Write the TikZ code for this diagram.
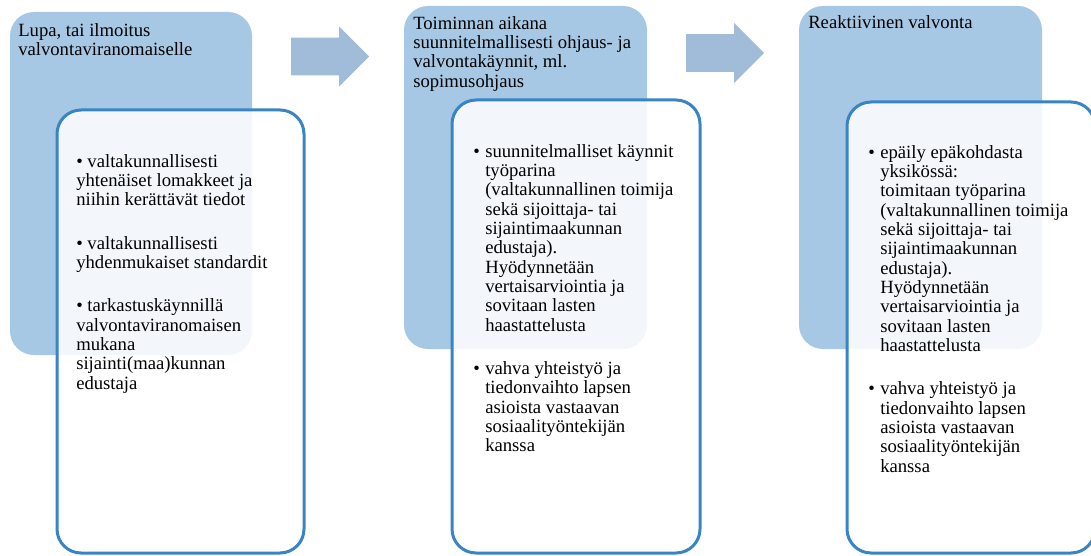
\documentclass[tikz,border=0pt]{standalone}
\usepackage{fontspec}
\setmainfont{Liberation Serif}
\usetikzlibrary{shapes,arrows}
\definecolor{backblue}{RGB}{167,200,228}
\definecolor{arrowblue}{RGB}{160,188,217}
\definecolor{lineblue}{RGB}{56,132,196}
\tikzstyle{backbox} = [fill=backblue, rectangle, rounded corners=18pt, anchor=north west, inner sep=0pt, outer sep=0pt]
\tikzstyle{frontbox} = [draw=lineblue, line width=2.25pt, fill=white, fill opacity=0.87, rectangle, rounded corners=18pt, anchor=north west, inner sep=0pt, outer sep=0pt]
\tikzstyle{flowarrow} = [fill=arrowblue, single arrow, single arrow head extend=8.25pt, single arrow tip angle=90, inner xsep=0pt, inner ysep=13.875pt, minimum height=58.5pt, outer sep=0pt, anchor=tail]
\tikzstyle{boxtitle} = [anchor=north west, inner sep=0pt, align=left, font=\fontsize{14pt}{14.5pt}\selectfont]
\newcommand{\hangbullet}{\llap{\textbullet\hspace{4pt}}}

\begin{document}
\begin{tikzpicture}[x=0.75pt, y=-0.75pt]
        \useasboundingbox (0,0) rectangle (1091,556);
        \clip (0,0) rectangle (1091,556);
        % back boxes
        \node[backbox, minimum width=181.5pt, minimum height=257.25pt] (lupa) at (10,12) {};
        \node[backbox, minimum width=182.25pt, minimum height=257.25pt] (toiminta) at (404,6) {};
        \node[backbox, minimum width=182.25pt, minimum height=257.25pt] (reakt) at (799,6) {};
        \node[boxtitle] (lupatitle) at (18,23) {Lupa, tai ilmoitus\\valvontaviranomaiselle};
        \node[boxtitle] (toimintatitle) at (413,16) {Toiminnan aikana\\suunnitelmallisesti ohjaus- ja\\valvontakäynnit, ml.\\sopimusohjaus};
        \node[boxtitle] (reakttitle) at (808,15) {Reaktiivinen valvonta};
        % arrows
        \node[flowarrow] (arrowA) at (291,56.5) {};
        \node[flowarrow] (arrowB) at (686,53) {};
        % front boxes
        \node[frontbox, minimum width=185.25pt, minimum height=332.25pt] (lupalist) at (57,110) {};
        \node[frontbox, minimum width=186pt, minimum height=339.75pt] (toimintalist) at (452,100) {};
        \node[frontbox, minimum width=186pt, minimum height=338.25pt] (reaktlist) at (847,102) {};
        \node[boxtitle] (lupatext) at (76,154) {\textbullet{} valtakunnallisesti\\yhtenäiset lomakkeet ja\\niihin kerättävät tiedot\\[18pt]%
            \textbullet{} valtakunnallisesti\\yhdenmukaiset standardit\\[18pt]%
            \textbullet{} tarkastuskäynnillä\\valvontaviranomaisen\\mukana\\sijainti(maa)kunnan\\edustaja};
        \node[boxtitle] (toimintatext) at (485,144) {\hangbullet suunnitelmalliset käynnit\\työparina\\(valtakunnallinen toimija\\sekä sijoittaja- tai\\sijaintimaakunnan\\edustaja).\\Hyödynnetään\\vertaisarviointia ja\\sovitaan lasten\\haastattelusta\\[18pt]%
            \hangbullet vahva yhteistyö ja\\tiedonvaihto lapsen\\asioista vastaavan\\sosiaalityöntekijän\\kanssa};
        \node[boxtitle] (reakttext) at (880,145) {\hangbullet epäily epäkohdasta\\yksikössä:\\toimitaan työparina\\(valtakunnallinen toimija\\sekä sijoittaja- tai\\sijaintimaakunnan\\edustaja).\\Hyödynnetään\\vertaisarviointia ja\\sovitaan lasten\\haastattelusta\\[18pt]%
            \hangbullet vahva yhteistyö ja\\tiedonvaihto lapsen\\asioista vastaavan\\sosiaalityöntekijän\\kanssa};
\end{tikzpicture}
\end{document}
